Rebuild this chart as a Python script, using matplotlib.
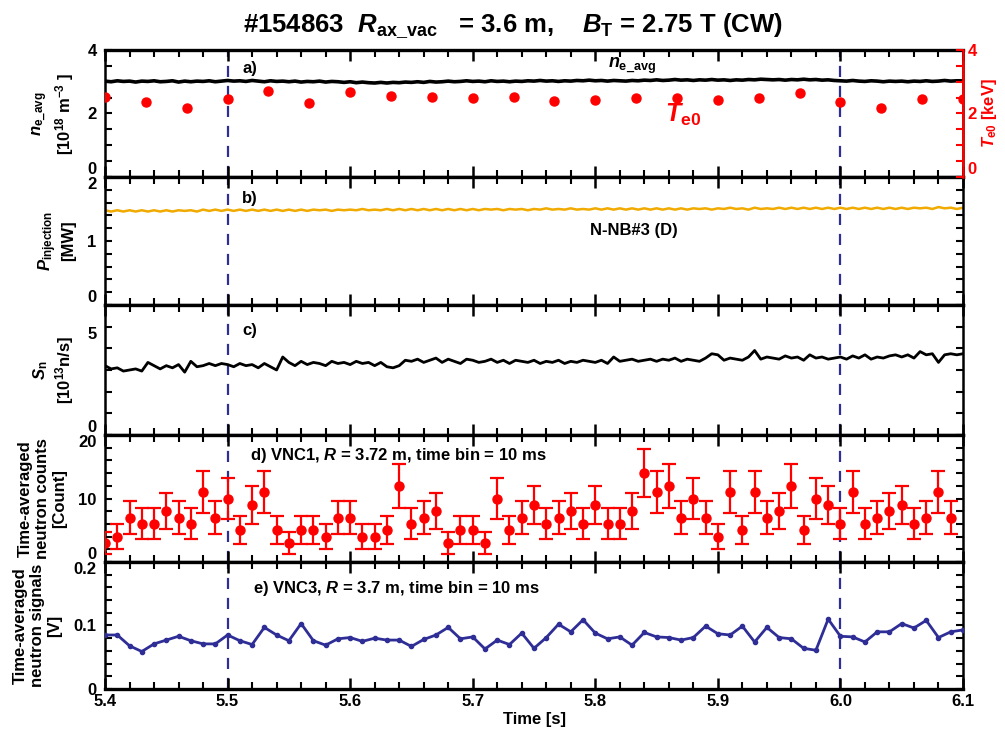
import numpy as np
import matplotlib
matplotlib.use("Agg")
import matplotlib.pyplot as plt
from matplotlib.ticker import MultipleLocator, FormatStrFormatter

plt.rcParams['font.family'] = 'Liberation Sans'
plt.rcParams['font.weight'] = 'bold'
plt.rcParams['mathtext.fontset'] = 'custom'
plt.rcParams['mathtext.rm'] = 'Liberation Sans:bold'
plt.rcParams['mathtext.it'] = 'Liberation Sans:bold:italic'
plt.rcParams['mathtext.bf'] = 'Liberation Sans:bold'

# fast traces, sampled every 5 ms from 5.400 to 6.100 s
t_fast = np.linspace(5.4, 6.1, 141)

ne_avg = [
    3.02, 3.00, 3.03, 3.01, 3.02, 2.99, 3.02, 3.01, 3.03, 3.00,
    3.01, 3.03, 2.99, 3.02, 3.00, 3.02, 3.01, 3.03, 3.00, 3.02,
    3.04, 3.02, 3.03, 3.01, 3.04, 3.02, 3.00, 3.03, 3.01, 3.02,
    3.00, 3.02, 2.99, 3.01, 3.00, 3.02, 2.99, 3.01, 3.00, 2.98,
    3.00, 2.97, 2.99, 2.97, 2.96, 2.98, 2.96, 2.98, 2.97, 2.99,
    2.98, 3.00, 2.98, 3.01, 2.99, 3.00, 3.02, 3.00, 3.01, 3.03,
    3.01, 3.02, 3.00, 3.03, 3.01, 3.02, 3.00, 3.02, 3.01, 3.03,
    3.02, 3.04, 3.02, 3.03, 3.01, 3.03, 3.02, 3.04, 3.03, 3.05,
    3.03, 3.04, 3.02, 3.04, 3.03, 3.02, 3.04, 3.03, 3.05, 3.04,
    3.06, 3.04, 3.05, 3.07, 3.05, 3.06, 3.04, 3.06, 3.05, 3.07,
    3.05, 3.06, 3.04, 3.06, 3.05, 3.07, 3.06, 3.08, 3.07, 3.06,
    3.07, 3.05, 3.07, 3.06, 3.08, 3.06, 3.07, 3.05, 3.06, 3.04,
    3.03, 3.02, 3.04, 3.02, 3.01, 3.03, 3.02, 3.00, 3.02, 3.01,
    3.02, 3.00, 3.02, 3.01, 3.03, 3.01, 3.02, 3.04, 3.02, 3.03,
    3.03,
]

p_inj = [
    1.48, 1.46, 1.48, 1.46, 1.48, 1.46, 1.48, 1.46, 1.48, 1.46,
    1.48, 1.46, 1.48, 1.47, 1.48, 1.46, 1.49, 1.47, 1.49, 1.47,
    1.49, 1.47, 1.49, 1.47, 1.49, 1.47, 1.49, 1.47, 1.49, 1.47,
    1.49, 1.47, 1.49, 1.47, 1.49, 1.48, 1.49, 1.47, 1.49, 1.48,
    1.49, 1.48, 1.50, 1.48, 1.49, 1.48, 1.50, 1.48, 1.50, 1.48,
    1.50, 1.48, 1.50, 1.48, 1.50, 1.48, 1.50, 1.48, 1.50, 1.48,
    1.50, 1.48, 1.50, 1.49, 1.50, 1.48, 1.50, 1.49, 1.50, 1.48,
    1.50, 1.49, 1.51, 1.49, 1.50, 1.49, 1.51, 1.49, 1.50, 1.49,
    1.51, 1.49, 1.51, 1.49, 1.51, 1.49, 1.51, 1.49, 1.51, 1.49,
    1.51, 1.49, 1.51, 1.49, 1.51, 1.49, 1.51, 1.50, 1.51, 1.49,
    1.51, 1.50, 1.52, 1.50, 1.51, 1.49, 1.52, 1.50, 1.51, 1.50,
    1.52, 1.50, 1.52, 1.50, 1.52, 1.50, 1.52, 1.50, 1.52, 1.50,
    1.52, 1.50, 1.52, 1.50, 1.52, 1.50, 1.52, 1.50, 1.52, 1.50,
    1.52, 1.50, 1.52, 1.51, 1.52, 1.50, 1.53, 1.51, 1.52, 1.50,
    1.52,
]

s_n = [
    3.20, 3.05, 3.10, 2.95, 3.00, 3.05, 2.95, 3.35, 3.20, 3.05,
    3.20, 3.10, 3.25, 2.90, 3.40, 3.15, 3.20, 3.30, 3.20, 3.30,
    3.25, 3.15, 3.30, 3.20, 3.25, 3.10, 3.30, 3.15, 3.00, 3.60,
    3.35, 3.20, 3.40, 3.25, 3.35, 3.30, 3.20, 3.40, 3.30, 3.35,
    3.25, 3.40, 3.30, 3.35, 3.20, 3.35, 3.15, 3.10, 3.20, 3.45,
    3.40, 3.50, 3.35, 3.45, 3.55, 3.35, 3.50, 3.40, 3.30, 3.50,
    3.45, 3.35, 3.40, 3.50, 3.35, 3.45, 3.30, 3.45, 3.40, 3.35,
    3.45, 3.30, 3.40, 3.35, 3.45, 3.30, 3.40, 3.35, 3.45, 3.40,
    3.35, 3.45, 3.30, 3.60, 3.40, 3.45, 3.50, 3.40, 3.45, 3.50,
    3.40, 3.50, 3.45, 3.55, 3.40, 3.50, 3.45, 3.40, 3.55, 3.75,
    3.70, 3.45, 3.55, 3.50, 3.45, 3.60, 3.90, 3.50, 3.60, 3.55,
    3.50, 3.65, 3.55, 3.60, 3.45, 3.70, 3.55, 3.60, 3.50, 3.55,
    3.60, 3.50, 3.65, 3.55, 3.70, 3.50, 3.60, 3.55, 3.65, 3.70,
    3.60, 3.70, 3.55, 3.85, 3.70, 3.75, 3.35, 3.70, 3.75, 3.70,
    3.75,
]

# Thomson central temperature, 30 Hz
t_te = np.linspace(5.4, 6.1, 22)
te0 = [2.52, 2.36, 2.17, 2.46, 2.71, 2.33, 2.68, 2.55, 2.52, 2.49, 2.52,
       2.39, 2.43, 2.49, 2.49, 2.43, 2.49, 2.65, 2.36, 2.17, 2.46, 2.46]

# VNC1 counts, 10 ms bins 5.40 .. 6.09
t_vnc1 = np.linspace(5.40, 6.09, 70)
vnc1 = [3, 4, 7, 6, 6, 8, 7, 6, 11, 7,
        10, 5, 9, 11, 5, 3, 5, 5, 4, 7,
        7, 4, 4, 5, 12, 6, 7, 8, 3, 5,
        5, 3, 10, 5, 7, 9, 6, 7, 8, 6,
        9, 6, 6, 8, 14, 11, 12, 7, 10, 7,
        4, 11, 5, 11, 7, 8, 12, 5, 10, 9,
        6, 11, 6, 7, 8, 9, 6, 7, 11, 7]

# VNC3 signal, 10 ms bins 5.40 .. 6.10
t_vnc3 = np.linspace(5.40, 6.10, 71)
vnc3 = [0.085, 0.085, 0.068, 0.059, 0.071, 0.077, 0.083, 0.076, 0.071, 0.071,
        0.085, 0.076, 0.070, 0.097, 0.085, 0.076, 0.103, 0.076, 0.069, 0.079,
        0.081, 0.075, 0.080, 0.077, 0.077, 0.067, 0.078, 0.085, 0.097, 0.079,
        0.082, 0.063, 0.077, 0.070, 0.088, 0.064, 0.081, 0.102, 0.090, 0.109,
        0.088, 0.079, 0.082, 0.069, 0.089, 0.082, 0.081, 0.077, 0.081, 0.099,
        0.087, 0.085, 0.099, 0.074, 0.097, 0.081, 0.079, 0.064, 0.061, 0.110,
        0.083, 0.082, 0.074, 0.090, 0.090, 0.103, 0.096, 0.108, 0.081, 0.090,
        0.093]

navy = '#2e2e96'
fig = plt.figure(figsize=(10.05, 7.31), dpi=100)

left, width = 0.1045, 0.8537
bounds = [0.9316, 0.7579, 0.5828, 0.4049, 0.2312, 0.0575]
axes = []
for i in range(5):
    ax = fig.add_axes([left, bounds[i + 1], width, bounds[i] - bounds[i + 1]],
                      sharex=axes[0] if axes else None)
    axes.append(ax)

for i, ax in enumerate(axes):
    ax.set_xlim(5.4, 6.1)
    ax.xaxis.set_major_locator(MultipleLocator(0.1))
    ax.xaxis.set_minor_locator(MultipleLocator(0.02))
    ax.xaxis.set_major_formatter(FormatStrFormatter('%.1f'))
    ax.tick_params(axis='x', which='major', direction='in', top=True, bottom=True,
                   length=8, width=1.8, labelsize=12, labelbottom=(i == 4))
    ax.tick_params(axis='x', which='minor', direction='in', top=True, bottom=True,
                   length=5, width=1.5)
    ax.tick_params(axis='y', which='major', direction='in', left=True, right=(i != 0),
                   length=5, width=1.5, labelsize=12, pad=6)
    ax.tick_params(axis='y', which='minor', direction='in', left=True, right=(i != 0),
                   length=5, width=1.5)
    for s in ax.spines.values():
        s.set_linewidth(1.8)
    ax.spines['top'].set_linewidth(2.4)
    ax.spines['bottom'].set_linewidth(2.4)
    ax.axvline(5.5, color=navy, ls=(0, (5, 4)), lw=1.6, zorder=1)
    ax.axvline(6.0, color=navy, ls=(0, (5, 4)), lw=1.6, zorder=1)

# a) density and Te0
ax = axes[0]
ax.plot(t_fast, ne_avg, color='black', lw=2.6, zorder=3)
ax.set_ylim(0, 4)
ax.set_yticks([0, 2, 4])
ax.yaxis.set_minor_locator(MultipleLocator(0.5))
ax.set_ylabel('$n_{\\rm e\\_avg}$\n[10$^{18}$ m$^{-3}$ ]', fontsize=12, fontweight='bold',
              labelpad=8)
ax.text(5.512, 3.43, 'a)', fontsize=12, fontweight='bold', va='center')
ax.text(5.81, 3.5, '$n_{\\rm e\\_avg}$', fontsize=13, va='center')
axr = ax.twinx()
axr.plot(t_te, te0, 'o', color='red', ms=6.5, zorder=4)
axr.set_ylim(0, 4)
axr.set_yticks([0, 2, 4])
axr.yaxis.set_minor_locator(MultipleLocator(0.5))
axr.tick_params(axis='y', which='both', direction='in', colors='red', length=5, width=1.5,
                labelsize=12)
axr.spines['right'].set_color('red')
axr.spines['right'].set_linewidth(1.8)
axr.spines['top'].set_visible(False)
axr.spines['bottom'].set_visible(False)
axr.spines['left'].set_visible(False)
axr.set_ylabel('$T_{\\rm e0}$ [keV]', color='red', fontsize=12, fontweight='bold', labelpad=2)
axr.text(5.857, 1.95, '$T_{\\rm e0}$', color='red', fontsize=18, va='center')

# b) NBI power
ax = axes[1]
ax.plot(t_fast, p_inj, color='#f0aa00', lw=1.8)
ax.set_ylim(0, 2)
ax.set_yticks([0, 1, 2])
ax.yaxis.set_minor_locator(MultipleLocator(0.2))
ax.set_ylabel('$P_{\\rm injection}$\n[MW]', fontsize=12, fontweight='bold', labelpad=8)
ax.text(5.512, 1.66, 'b)', fontsize=12, fontweight='bold', va='center')
ax.text(5.796, 1.17, 'N-NB#3 (D)', fontsize=12, fontweight='bold', va='center')

# c) neutron rate
ax = axes[2]
ax.plot(t_fast, s_n, color='black', lw=2.0)
ax.set_ylim(0, 6)
ax.set_yticks([0, 5])
ax.yaxis.set_minor_locator(MultipleLocator(1))
ax.set_ylabel('$S_{\\rm n}$\n[10$^{13}$n/s]', fontsize=12, fontweight='bold', labelpad=8)
ax.text(5.512, 4.8, 'c)', fontsize=12, fontweight='bold', va='center')

# d) VNC1 counts
ax = axes[3]
ax.errorbar(t_vnc1, vnc1, yerr=np.sqrt(vnc1), fmt='o', color='red', ms=6.5,
            elinewidth=1.6, capsize=5, capthick=1.6, zorder=4)
ax.set_ylim(0, 20)
ax.set_yticks([0, 10, 20])
ax.yaxis.set_minor_locator(MultipleLocator(2))
ax.set_ylabel('Time-averaged\nneutron counts\n[Count]', fontsize=12, fontweight='bold',
              labelpad=8)
ax.text(5.518, 16.7, 'd) VNC1, $R$ = 3.72 m, time bin = 10 ms', fontsize=12,
        fontweight='bold', va='center')

# e) VNC3 signal
ax = axes[4]
ax.plot(t_vnc3, vnc3, '-o', color=navy, lw=2.0, ms=3, zorder=4)
ax.set_ylim(0, 0.2)
ax.set_yticks([0, 0.1, 0.2])
ax.set_yticklabels(['0', '0.1', '0.2'])
ax.yaxis.set_minor_locator(MultipleLocator(0.02))
ax.set_ylabel('Time-averaged\nneutron signals\n[V]', fontsize=12, fontweight='bold',
              labelpad=8)
ax.text(5.521, 0.159, 'e) VNC3, $R$ = 3.7 m, time bin = 10 ms', fontsize=12,
        fontweight='bold', va='center')
ax.set_xlabel('Time [s]', fontsize=12, fontweight='bold', labelpad=2)

# keep the tick labels at shared panel edges from sitting on top of each other
for i, ax in enumerate(axes):
    labs = ax.get_yticklabels()
    if i < 4:
        labs[0].set_va('bottom')
    if i > 0:
        labs[-1].set_va('top')
axr.get_yticklabels()[0].set_va('bottom')

fig.suptitle('#154863  $R_{\\rm ax\\_vac}$   = 3.6 m,    $B_{\\rm T}$ = 2.75 T (CW)',
             fontsize=18.5, fontweight='bold', x=0.51, y=0.985)

fig.savefig('out.png', dpi=100)
